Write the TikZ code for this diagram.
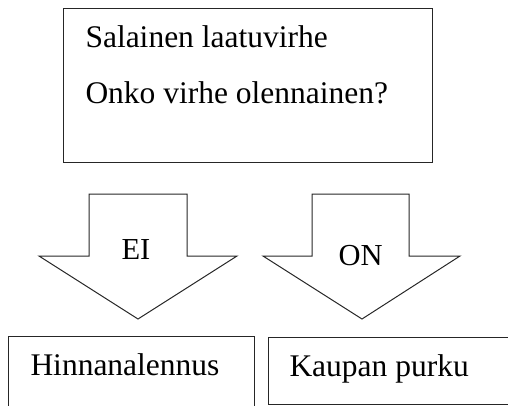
\documentclass[tikz,border=0pt]{standalone}
\usepackage{fontspec}
\setmainfont{Liberation Serif}
\begin{document}
\begin{tikzpicture}[x=1pt,y=-1pt,
  line width=1pt,
  big/.style={font=\fontsize{31.5}{36}\selectfont, inner sep=0pt, anchor=base west},
  mid/.style={font=\fontsize{30.5}{34}\selectfont, inner sep=0pt, anchor=base west},
  outl/.style={draw=black!85}]
\useasboundingbox (0,0) rectangle (508,405);
\clip (0,0) rectangle (508,405);
% top box
\draw[outl] (63,8) rectangle (432,162);
\node[big] (t1) at (85,47) {Salainen laatuvirhe};
\node[big] (t2) at (85,103) {Onko virhe olennainen?};
% arrows
\draw[outl, line join=miter] (89,194) -- (187,194) -- (187,256) -- (237,256) -- (138,319) -- (39,256) -- (89,256) -- cycle;
\draw[outl, line join=miter] (312,194) -- (409,194) -- (409,256) -- (460,256) -- (362,319) -- (263,256) -- (312,256) -- cycle;
\node[mid] (ei) at (121,259) {EI};
\node[mid] (on) at (338,265) {ON};
% bottom boxes
\draw[outl] (8,336) rectangle (254,430);
\draw[outl] (268,337) rectangle (530,404);
\node[big] (h) at (30,375) {Hinnanalennus};
\node[big] (k) at (289,376) {Kaupan purku};
\end{tikzpicture}
\end{document}
